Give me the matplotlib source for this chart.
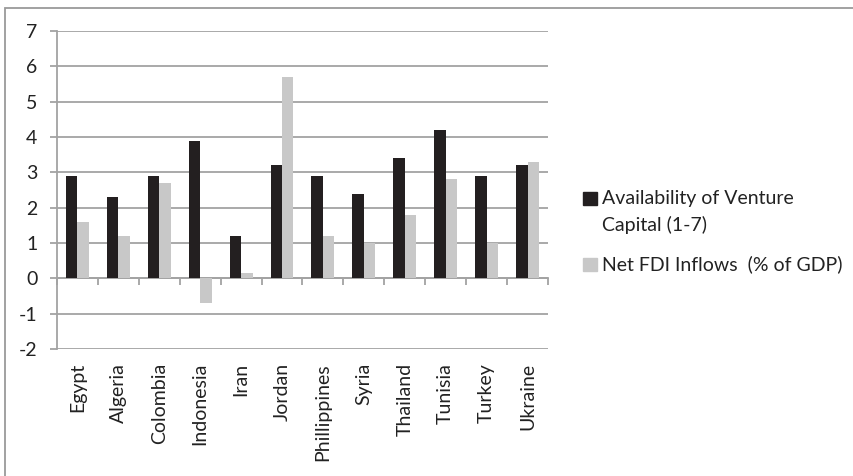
import numpy as np
import matplotlib.pyplot as plt
from matplotlib.patches import Rectangle

plt.rcParams['font.family'] = ['Lato', 'DejaVu Sans']

countries = ['Egypt', 'Algeria', 'Colombia', 'Indonesia', 'Iran', 'Jordan',
             'Phillippines', 'Syria', 'Thailand', 'Tunisia', 'Turkey', 'Ukraine']
venture_capital = [2.9, 2.3, 2.9, 3.9, 1.2, 3.2, 2.9, 2.4, 3.4, 4.2, 2.9, 3.2]
fdi_inflows = [1.6, 1.2, 2.7, -0.7, 0.15, 5.7, 1.2, 1.0, 1.8, 2.8, 1.0, 3.3]
y_ticks = [-2, -1, 0, 1, 2, 3, 4, 5, 6, 7]

labels = ['Availability of Venture\nCapital (1-7)', 'Net FDI Inflows  (% of GDP)']
c_dark = '#231f20'
c_light = '#c8c8c8'
c_grid = '#a3a3a3'
c_text = '#222222'
fs = 14

fig = plt.figure(figsize=(8.54, 4.76), dpi=100)
ax = fig.add_axes([0.0667, 0.2668, 0.575, 0.668])

x = np.arange(len(countries))
w = 0.28
ax.bar(x - w / 2, venture_capital, w, color=c_dark, zorder=3)
ax.bar(x + w / 2, fdi_inflows, w, color=c_light, zorder=3)

ax.set_xlim(-0.5, len(countries) - 0.5)
ax.set_ylim(-2, 7)
ax.set_yticks(y_ticks)
ax.set_yticklabels([str(v) for v in y_ticks], fontsize=fs)
ax.yaxis.grid(True, color=c_grid, lw=1.3)
ax.set_axisbelow(True)

for s in ['top', 'right', 'bottom']:
    ax.spines[s].set_visible(False)
ax.spines['left'].set_color(c_grid)
ax.spines['left'].set_linewidth(1.3)
ax.tick_params(axis='y', length=5, width=1.3, color=c_grid, pad=9, labelcolor=c_text)

ax.set_xticks(x)
ax.set_xticklabels(countries, rotation=90, fontsize=fs, color=c_text)
ax.tick_params(axis='x', length=0, pad=10)

# category axis sits on the zero line, with ticks between the groups
sec = ax.secondary_xaxis(2 / 9)
sec.set_xticks(np.arange(len(countries) + 1) - 0.5)
sec.set_xticklabels([])
sec.tick_params(axis='x', direction='out', length=5, width=1.3, color=c_grid)
sec.spines['bottom'].set_color(c_grid)
sec.spines['bottom'].set_linewidth(1.3)

# legend
fig.patches.append(Rectangle((583 / 854, 1 - 205 / 476), 14 / 854, 13 / 476,
                             transform=fig.transFigure, color=c_dark))
fig.text(602 / 854, 1 - 198 / 476, 'Availability of Venture', fontsize=fs,
         va='center', ha='left', color=c_text)
fig.text(602 / 854, 1 - 225 / 476, 'Capital (1-7)', fontsize=fs,
         va='center', ha='left', color=c_text)
fig.patches.append(Rectangle((583 / 854, 1 - 271 / 476), 14 / 854, 13 / 476,
                             transform=fig.transFigure, color=c_light))
fig.text(602 / 854, 1 - 264 / 476, labels[1], fontsize=fs,
         va='center', ha='left', color=c_text)

# chart frame
fig.patches.append(Rectangle((5 / 854, -0.1), 1.2, 1 - 7.5 / 476 + 0.1,
                             transform=fig.transFigure, fill=False,
                             edgecolor='#9a9a9a', lw=1.3))

fig.savefig('out.png', dpi=100)
